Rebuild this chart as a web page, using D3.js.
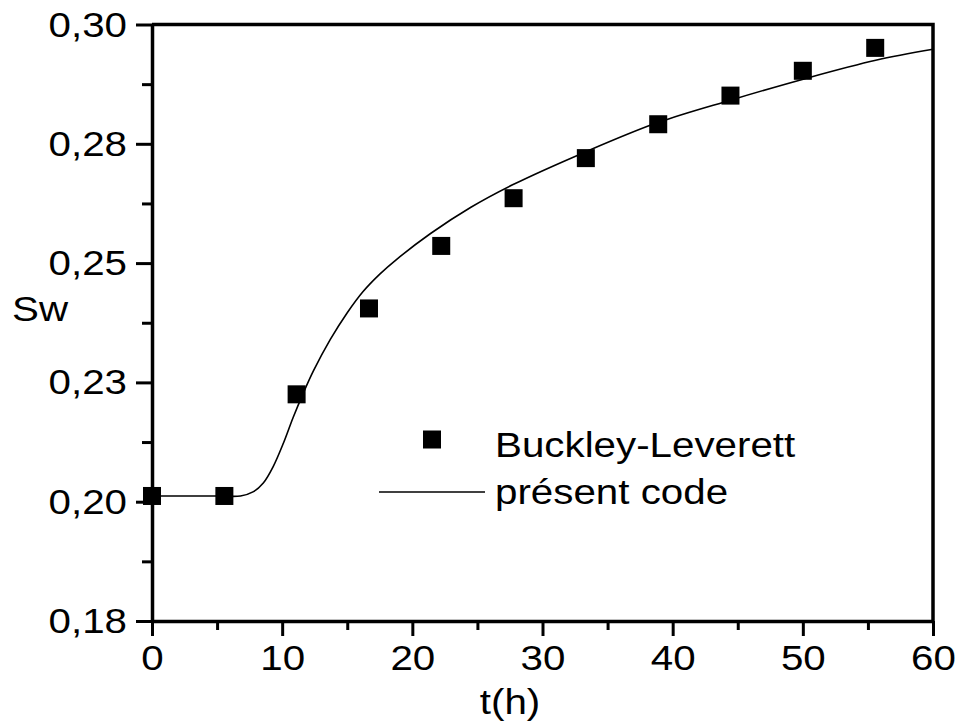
<!DOCTYPE html>
<html>
<head>
<meta charset="utf-8">
<script src="https://cdn.jsdelivr.net/npm/d3@7"></script>
<style>
  body { margin: 0; background: #fff; }
  svg { display: block; }
  text { font-family: "Liberation Sans", Arial, sans-serif; fill: #000; }
</style>
</head>
<body>
<div class="chart"></div>
<script>
// Buckley-Leverett reference points
var blTime = [0, 5.56, 11.11, 16.67, 22.22, 27.78, 33.33, 38.89, 44.44, 50.0, 55.56];
var blSw   = [0.2012, 0.2012, 0.2225, 0.2405, 0.2536, 0.2636, 0.2720, 0.2791, 0.2851, 0.2903, 0.2951];

// present code curve
var codeTime = [0, 5, 6.8, 7.8, 8.55, 9.3, 10.1, 10.85, 11.6, 12.4, 13.7, 15.0, 16.2, 17.5, 18.8, 21.4, 24.5, 27.7, 33.3, 38.9, 44.5, 50.1, 55.6, 60];
var codeSw   = [0.2012, 0.2012, 0.2012, 0.2021, 0.2039, 0.2073, 0.2123, 0.2177, 0.2226, 0.2274, 0.2340, 0.2396, 0.2440, 0.2477, 0.2508, 0.2562, 0.2617, 0.2664, 0.2733, 0.2795, 0.2842, 0.2886, 0.2925, 0.2948];

var xTicks = [0, 10, 20, 30, 40, 50, 60];
var xMinor = [5, 15, 25, 35, 45, 55];
var yTicks = [0.175, 0.2, 0.225, 0.25, 0.275, 0.30];
var yTickLabels = ["0,18", "0,20", "0,23", "0,25", "0,28", "0,30"];
var yMinor = [0.1875, 0.2125, 0.2375, 0.2625, 0.2875];

var legendNames = ["Buckley-Leverett", "présent code"];

var W = 958, H = 722;
var STRETCH = 1.12;   // text in the picture is a bit wider than plain Arial
var FS = 36;

var svg = d3.select(".chart").append("svg")
            .attr("width", W)
            .attr("height", H);

var x = d3.scaleLinear().domain([0, 60]).range([152, 933]);
var y = d3.scaleLinear().domain([0.175, 0.30]).range([621, 24.5]);

// minor ticks first, then major axes on top
svg.append("g")
   .attr("transform", "translate(0," + y(0.175) + ")")
   .call(d3.axisBottom(x).tickValues(xMinor).tickSize(9).tickFormat(""))
   .call(function(g){ g.select(".domain").remove(); });

svg.append("g")
   .attr("transform", "translate(" + x(0) + ",0)")
   .call(d3.axisLeft(y).tickValues(yMinor).tickSize(10).tickFormat(""))
   .call(function(g){ g.select(".domain").remove(); });

var xAxis = svg.append("g")
   .attr("transform", "translate(0," + y(0.175) + ")")
   .call(d3.axisBottom(x).tickValues(xTicks).tickSize(15).tickSizeOuter(0).tickPadding(8));

var yAxis = svg.append("g")
   .attr("transform", "translate(" + x(0) + ",0)")
   .call(d3.axisLeft(y).tickValues(yTicks).tickSize(16).tickSizeOuter(0).tickPadding(9)
         .tickFormat(function(d, i){ return yTickLabels[i]; }));

svg.selectAll(".tick line").attr("stroke", "#000").attr("stroke-width", 3);
svg.selectAll(".domain").attr("stroke", "#000").attr("stroke-width", 3.5);

xAxis.selectAll("text")
     .attr("font-size", FS)
     .attr("transform", "scale(" + STRETCH + ",1)");

yAxis.selectAll("text")
     .attr("font-size", FS)
     .attr("x", -25 / STRETCH)
     .attr("transform", "scale(" + STRETCH + ",1)");

// top and right frame
svg.append("path")
   .attr("d", "M" + x(0) + "," + y(0.30) + "H" + x(60) + "V" + y(0.175))
   .attr("fill", "none")
   .attr("stroke", "#000")
   .attr("stroke-width", 3.5);

// curve
var line = d3.line()
  .x(function(d){ return x(d.t); })
  .y(function(d){ return y(d.s); })
  .curve(d3.curveCatmullRom.alpha(0.5));

var codeData = codeTime.map(function(t, i){ return {t: t, s: codeSw[i]}; });

svg.append("path")
   .datum(codeData)
   .attr("d", line)
   .attr("fill", "none")
   .attr("stroke", "#000")
   .attr("stroke-width", 1.6);

// squares
var blData = blTime.map(function(t, i){ return {t: t, s: blSw[i]}; });
var sq = 18;
svg.append("g").selectAll("rect")
   .data(blData)
   .enter().append("rect")
   .attr("x", function(d){ return x(d.t) - sq / 2; })
   .attr("y", function(d){ return y(d.s) - sq / 2; })
   .attr("width", sq)
   .attr("height", sq)
   .attr("fill", "#000");

// legend
var lg = svg.append("g");
lg.append("rect")
  .attr("x", 423).attr("y", 430.5)
  .attr("width", sq).attr("height", sq)
  .attr("fill", "#000");
lg.append("line")
  .attr("x1", 379).attr("x2", 485)
  .attr("y1", 492).attr("y2", 492)
  .attr("stroke", "#000").attr("stroke-width", 1.6);

lg.selectAll("text")
  .data(legendNames)
  .enter().append("text")
  .attr("font-size", FS)
  .attr("transform", function(d, i){
      return "translate(495," + (457 + i * 47) + ") scale(" + STRETCH + ",1)";
  })
  .text(function(d){ return d; });

// axis titles
svg.append("text")
   .attr("font-size", FS)
   .attr("transform", "translate(12,321) scale(" + STRETCH + ",1)")
   .text("Sw");

svg.append("text")
   .attr("font-size", FS)
   .attr("text-anchor", "middle")
   .attr("transform", "translate(510,714) scale(" + STRETCH + ",1)")
   .text("t(h)");
</script>
</body>
</html>
